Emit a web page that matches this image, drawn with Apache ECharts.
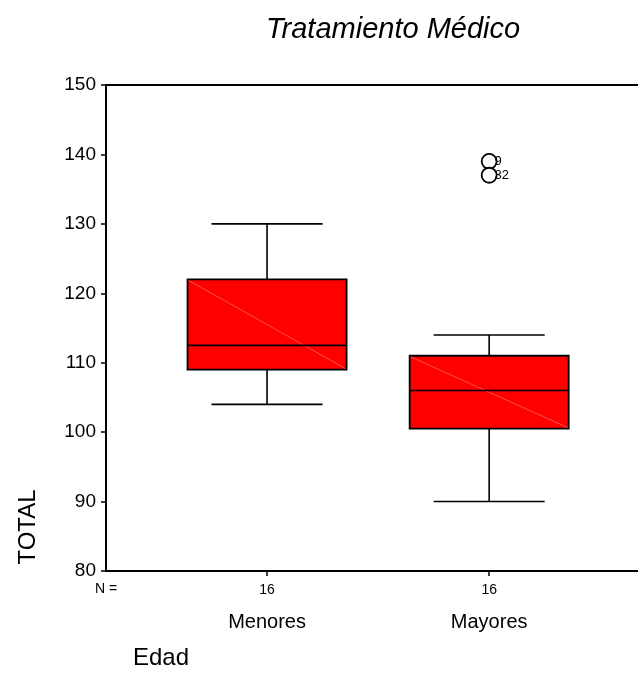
<!DOCTYPE html>
<html>
<head>
<meta charset="utf-8">
<script src="https://cdn.jsdelivr.net/npm/echarts@6/dist/echarts.min.js"></script>
<style>html,body{margin:0;padding:0;background:#fff;}#c{width:638px;height:694px;}</style>
</head>
<body>
<div id="c"></div>
<script>
// ---- data ----
const categories = ['Menores', 'Mayores'];
const counts = [16, 16];
const whiskerLow = [104, 90];
const q1 = [109, 100.5];
const median = [112.5, 106];
const q3 = [122, 111];
const whiskerHigh = [130, 114];
const outlierCategory = [2, 2];
const outlierValues = [139, 137];
const outlierLabels = ['9', '32'];
const yTicks = [80, 90, 100, 110, 120, 130, 140, 150];

// ---- build ----
const FONT = 'Liberation Sans, Arial, sans-serif';
const boxData = categories.map((c, i) => [i + 1, whiskerLow[i], q1[i], median[i], q3[i], whiskerHigh[i]]);
const outData = outlierValues.map((v, i) => ({ value: [outlierCategory[i], v], name: outlierLabels[i] }));
const BOX_HALF = 0.358, CAP_HALF = 0.25;

function renderBox(params, api) {
  const x = api.value(0);
  const lo = api.coord([x, api.value(1)]);
  const b1 = api.coord([x, api.value(2)]);
  const md = api.coord([x, api.value(3)]);
  const b3 = api.coord([x, api.value(4)]);
  const hi = api.coord([x, api.value(5)]);
  const left = api.coord([x - BOX_HALF, 0])[0];
  const right = api.coord([x + BOX_HALF, 0])[0];
  const cl = api.coord([x - CAP_HALF, 0])[0];
  const cr = api.coord([x + CAP_HALF, 0])[0];
  const cx = lo[0];
  const stroke = { stroke: '#000', lineWidth: 1.6 };
  return {
    type: 'group',
    children: [
      { type: 'line', shape: { x1: cx, y1: hi[1], x2: cx, y2: b3[1] }, style: stroke },
      { type: 'line', shape: { x1: cx, y1: b1[1], x2: cx, y2: lo[1] }, style: stroke },
      { type: 'line', shape: { x1: cl, y1: hi[1], x2: cr, y2: hi[1] }, style: stroke },
      { type: 'line', shape: { x1: cl, y1: lo[1], x2: cr, y2: lo[1] }, style: stroke },
      { type: 'rect', shape: { x: left, y: b3[1], width: right - left, height: b1[1] - b3[1] },
        style: { fill: '#ff0000', stroke: '#000', lineWidth: 1.8 } },
      { type: 'line', shape: { x1: left + 1, y1: b3[1] + 1, x2: right - 1, y2: b1[1] - 1 },
        style: { stroke: 'rgba(255,140,140,0.7)', lineWidth: 0.8 } },
      { type: 'line', shape: { x1: left, y1: md[1], x2: right, y2: md[1] }, style: stroke }
    ]
  };
}

const chart = echarts.init(document.getElementById('c'), null, { renderer: 'canvas' });
chart.setOption({
  animation: false,
  backgroundColor: '#fff',
  textStyle: { fontFamily: FONT },
  title: {
    text: 'Tratamiento Médico',
    left: 261, top: 10,
    textStyle: { fontFamily: FONT, fontStyle: 'italic', fontWeight: 'normal', fontSize: 29, color: '#000' }
  },
  grid: { left: 106, top: 85, right: 0, bottom: 123 },
  xAxis: [{
    type: 'value', min: 0.275, max: 2.67,
    axisLine: { show: true, onZero: false, lineStyle: { color: '#000', width: 2 } },
    axisTick: { show: true, customValues: [1, 2], length: 5, lineStyle: { color: '#000', width: 1.5 } },
    splitLine: { show: false },
    axisLabel: {
      customValues: [1, 2], margin: 8, color: '#000',
      formatter: v => { const i = Math.round(v) - 1; return '{n|' + counts[i] + '}\n{c|' + categories[i] + '}'; },
      rich: {
        n: { fontSize: 14, lineHeight: 22, fontFamily: FONT, color: '#000' },
        c: { fontSize: 20, lineHeight: 42, fontFamily: FONT, color: '#000' }
      }
    }
  }, {
    type: 'value', position: 'top', min: 0.275, max: 2.67,
    axisLine: { show: true, onZero: false, lineStyle: { color: '#000', width: 2 } },
    axisTick: { show: false }, axisLabel: { show: false }, splitLine: { show: false }
  }],
  yAxis: {
    type: 'value', min: yTicks[0], max: yTicks[yTicks.length - 1], interval: 10,
    axisLine: { show: true, onZero: false, lineStyle: { color: '#000', width: 2 } },
    axisTick: { show: true, inside: false, length: 5, lineStyle: { color: '#000', width: 1.5 } },
    axisLabel: { fontSize: 19, color: '#000', margin: 10, fontFamily: FONT },
    splitLine: { show: false }
  },
  graphic: [
    { type: 'text', left: 95, top: 582, style: { text: 'N =', fontSize: 14, fontFamily: FONT, fill: '#000' } },
    { type: 'text', x: 28, y: 527, rotation: Math.PI / 2,
      style: { text: 'TOTAL', fontSize: 24, fontFamily: FONT, fill: '#000', align: 'center', verticalAlign: 'middle' } },
    { type: 'text', left: 133, top: 646, style: { text: 'Edad', fontSize: 24, fontFamily: FONT, fill: '#000' } }
  ],
  series: [{
    type: 'custom', renderItem: renderBox, data: boxData,
    encode: { x: 0, y: [1, 2, 3, 4, 5] }, z: 2
  }, {
    type: 'scatter', data: outData, symbol: 'circle', symbolSize: 15,
    itemStyle: { color: '#fff', borderColor: '#000', borderWidth: 1.8, opacity: 1 },
    label: { show: true, position: 'right', distance: -3, formatter: p => p.name, fontSize: 13, color: '#000', fontFamily: FONT },
    z: 3
  }]
});
</script>
</body>
</html>
